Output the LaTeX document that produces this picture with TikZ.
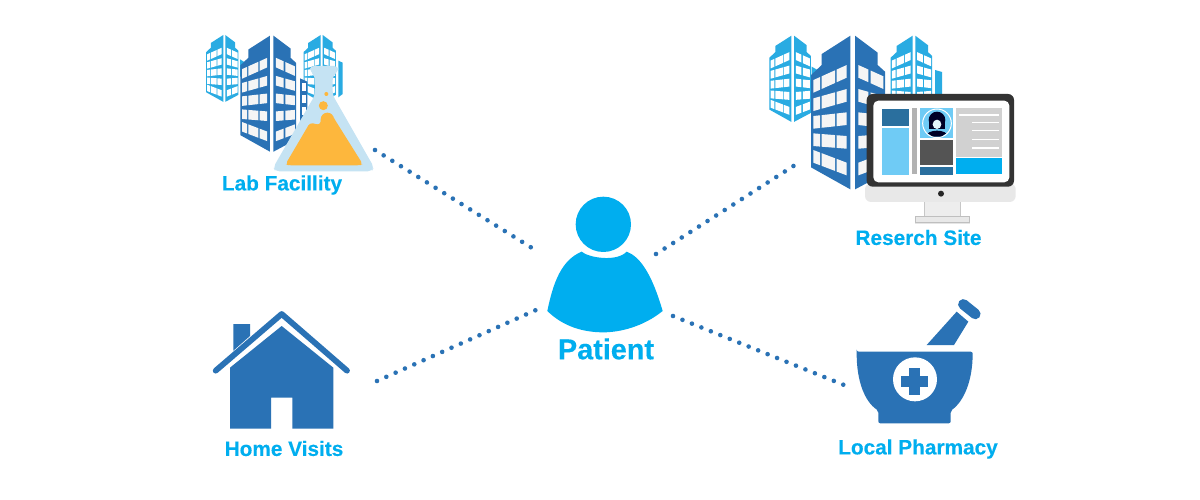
\documentclass[tikz,border=0pt]{standalone}
\usepackage{fontspec}
\setmainfont{Liberation Sans}[BoldFeatures={FakeBold=0.25}]
\definecolor{dkblue}{HTML}{2A72B5}
\definecolor{ltblue}{HTML}{29ABE2}
\definecolor{cyanb}{HTML}{00AEEF}
\definecolor{skyb}{HTML}{6FCBF5}
\definecolor{steel}{HTML}{2A6F9E}
\definecolor{flaskb}{HTML}{C5E3F3}
\definecolor{orangeb}{HTML}{FDB73D}
\tikzset{
  dots/.style={draw=dkblue,line width=4.6pt,line cap=round,dash pattern=on 0pt off 10.2pt},
  lbl/.style={text=cyanb,font=\bfseries\fontsize{20.8}{23}\selectfont,inner sep=0pt,anchor=center},
}
% building in local units: spine at x=0, top y=0, height 461
\newcommand{\bldg}[3]{%
  \fill[#1] (-7,0) -- (-93,55) -- (-93,88) -- (-125,118) -- (-125,395) -- (-7,461) -- cycle;
  \fill[#1] (7,0) -- (75,51) -- (75,88) -- (97,108) -- (97,413) -- (7,461) -- cycle;
  \foreach \ya/\yb in {133/88,188/160,241/230,293/301,343/381}{
    \foreach \xa/\xb in {-118/-98,-93/-53,-48/-18}{
      \pgfmathsetmacro\pa{\ya+(\xa+118)*(\yb-\ya)/100}
      \pgfmathsetmacro\pb{\ya+(\xb+118)*(\yb-\ya)/100}
      \fill[#2] (\xa,\pa) -- (\xb,\pb) -- (\xb,\pb+#3) -- (\xa,\pa+#3) -- cycle;
    }
    \foreach \xa/\xb in {17/47,54/92}{
      \pgfmathsetmacro\pa{\yb+(\xa-17)*(\ya-\yb)/100}
      \pgfmathsetmacro\pb{\yb+(\xb-17)*(\ya-\yb)/100}
      \fill[#2] (\xa,\pa) -- (\xb,\pb) -- (\xb,\pb+#3) -- (\xa,\pa+#3) -- cycle;
    }
  }
}
\begin{document}
\begin{tikzpicture}[x=1pt,y=-1pt]
\useasboundingbox (0,0) rectangle (1200,500);
\fill[white] (0,0) rectangle (1200,500);

% ---------- connectors
\coordinate (labEnd) at (375,150);
\coordinate (patA) at (532,248);
\coordinate (resEnd) at (795,165);
\coordinate (patB) at (656,254);
\coordinate (homeEnd) at (377,381);
\coordinate (patC) at (536,310);
\coordinate (phEnd) at (844,385);
\coordinate (patD) at (673,316);
\draw[dots] (labEnd) -- (patA);
\draw[dots] (patB) -- (resEnd);
\draw[dots] (homeEnd) -- (patC);
\draw[dots] (patD) -- (phEnd);

% ---------- lab facility buildings
\begin{scope}[shift={(190,20)},scale=1/3]
  \fill[ltblue] (150,118) -- (166,128) -- (166,170) -- (150,170) -- cycle;
  \fill[ltblue] (445,122) -- (458,128) -- (458,222) -- (445,232) -- cycle;
\end{scope}
\begin{scope}[shift={(224.3,35)},scale=0.145]\bldg{ltblue}{white}{44}\end{scope}
\begin{scope}[shift={(321.7,35)},scale=0.145]\bldg{ltblue}{white}{44}\end{scope}
\begin{scope}[shift={(271.7,35.7)},scale=0.2516]\bldg{dkblue}{white!96!black}{38}\end{scope}
\begin{scope}[shift={(190,20)},scale=1/3]
  \fill[dkblue] (330,175) -- (352,185) -- (352,318) -- (330,332) -- cycle;
  \foreach \y in {190,225,260,292}{\fill[white] (335,\y) rectangle (349,\y+24);}
\end{scope}
% flask
\begin{scope}[shift={(270,60)},scale=1/3]
  \fill[flaskb,rounded corners=4pt] (120,18) -- (205,18) -- (205,34) -- (188,48) -- (188,105) -- (312,322) -- (305,334) -- (16,334) -- (10,322) -- (135,105) -- (135,48) -- (120,34) -- cycle;
  \fill[orangeb,rounded corners=3pt] (47,312) -- (120,188) -- (150,195) -- (154,170) -- (190,170) -- (194,178) -- (278,312) -- (270,316) -- (55,316) -- cycle;
  \fill[orangeb] (172,178) circle (20);
  \fill[orangeb] (160,137) circle (13.5);
  \fill[orangeb] (169,102) circle (6);
\end{scope}
\node[lbl] (labLabel) at (282,185) {Lab Facillity};

% ---------- research site buildings
\begin{scope}[shift={(750,20)},scale=1/3]
  \fill[ltblue] (185,140) -- (206,152) -- (206,190) -- (185,190) -- cycle;
  \fill[ltblue] (555,150) -- (576,156) -- (576,240) -- (555,240) -- cycle;
\end{scope}
\begin{scope}[shift={(792.7,35.7)},scale=0.187]\bldg{ltblue}{white}{42}\end{scope}
\begin{scope}[shift={(914,35.7)},scale=0.187]\bldg{ltblue}{white}{42}\end{scope}
\begin{scope}[shift={(852.7,35.7)},scale=1/3]\bldg{dkblue}{white!96!black}{38}\end{scope}
% monitor
\begin{scope}[shift={(865,90)},scale=1/3]
  \fill[black!10] (150,382) rectangle (315,402);
  \fill[white!93!black,draw=black!22,line width=0.5pt] (178,330) -- (285,330) -- (285,378) -- (178,378) -- cycle;
  \fill[white!91!black,draw=black!25,line width=0.5pt] (152,378) rectangle (312,397);
  \fill[black!9,rounded corners=6pt] (0,280) rectangle (452,336);
  \fill[white!91!black,rounded corners=5pt] (5,280) rectangle (447,330);
  \fill[black!80,rounded corners=6pt] (5,12) rectangle (447,290);
  \fill[white,rounded corners=5pt] (25,32) rectangle (433,277);
  \fill[black!85] (228,311) circle (9);
  \fill[steel] (50,57) rectangle (132,108);
  \fill[skyb] (50,114) rectangle (132,255);
  \fill[black!30] (140,54) rectangle (155,253);
  \fill[skyb] (164,54) rectangle (265,143);
  \fill[black!67] (164,151) rectangle (265,224);
  \fill[steel] (164,232) rectangle (265,255);
  \fill[black!18] (273,54) rectangle (410,202);
  \fill[cyanb] (273,204) rectangle (410,253);
  \foreach \y/\x in {76/282,98/322,122/322,149/322,175/322}{\fill[white] (\x,\y-2.5) rectangle (402,\y+2.5);}
  % avatar
  \draw[white,line width=1pt] (216,100) circle (43);
  \begin{scope}
    \clip (216,100) circle (41);
    \fill[black!85!blue] (216,90) circle (25);
    \fill[black!85!blue] (191,90) rectangle (241,118);
    \fill[black!85!blue] (182,140) .. controls (186,116) and (246,116) .. (250,140) -- cycle;
    \fill[white!80!skyb] (216,103) ellipse (13 and 14);
  \end{scope}
\end{scope}
\node[lbl] (resLabel) at (918.5,237.5) {Reserch Site};

% ---------- patient
\begin{scope}[shift={(530,185)},scale=1/3]
  \fill[cyanb] (220,118) circle (83);
  \fill[cyanb] (155,200) .. controls (175,218) and (260,232) .. (290,200)
     .. controls (330,215) and (365,265) .. (398,378)
     .. controls (340,425) and (270,442) .. (220,442)
     .. controls (160,442) and (100,425) .. (52,378)
     .. controls (70,290) and (95,225) .. (155,200) -- cycle;
\end{scope}
\node[lbl,font=\bfseries\fontsize{28.8}{31}\selectfont] (patLabel) at (606,349) {Patient};

% ---------- home
\begin{scope}[shift={(200,300)},scale=1/3]
  \fill[dkblue] (100,72) -- (150,72) -- (150,108) -- (100,152) -- cycle;
  \draw[dkblue,line width=5.8pt,line cap=round,line join=round] (47,212) -- (245,42) -- (441,212);
  \fill[dkblue] (90,203) -- (245,78) -- (400,203) -- (400,386) -- (277,386) -- (277,293) -- (213,293) -- (213,386) -- (90,386) -- cycle;
\end{scope}
\node[lbl] (homeLabel) at (284,448.5) {Home Visits};

% ---------- pharmacy
\begin{scope}[shift={(830,290)},scale=1/3]
  \fill[dkblue] (290,165) -- (380,65) -- (415,95) -- (372,165) -- cycle;
  \draw[dkblue,line width=10.5pt,line cap=round] (400,43) -- (436,72);
  \fill[dkblue,rounded corners=2pt] (80,185) -- (428,185) .. controls (428,275) and (400,335) .. (362,362) -- (362,400) -- (145,400) -- (145,362) .. controls (105,335) and (80,275) .. (80,185) -- cycle;
  \fill[white] (255,268) circle (66);
  \fill[dkblue] (238,235) rectangle (270,315);
  \fill[dkblue] (214,259) rectangle (295,290);
\end{scope}
\node[lbl] (phLabel) at (918,449) {Local Pharmacy};
\end{tikzpicture}
\end{document}
